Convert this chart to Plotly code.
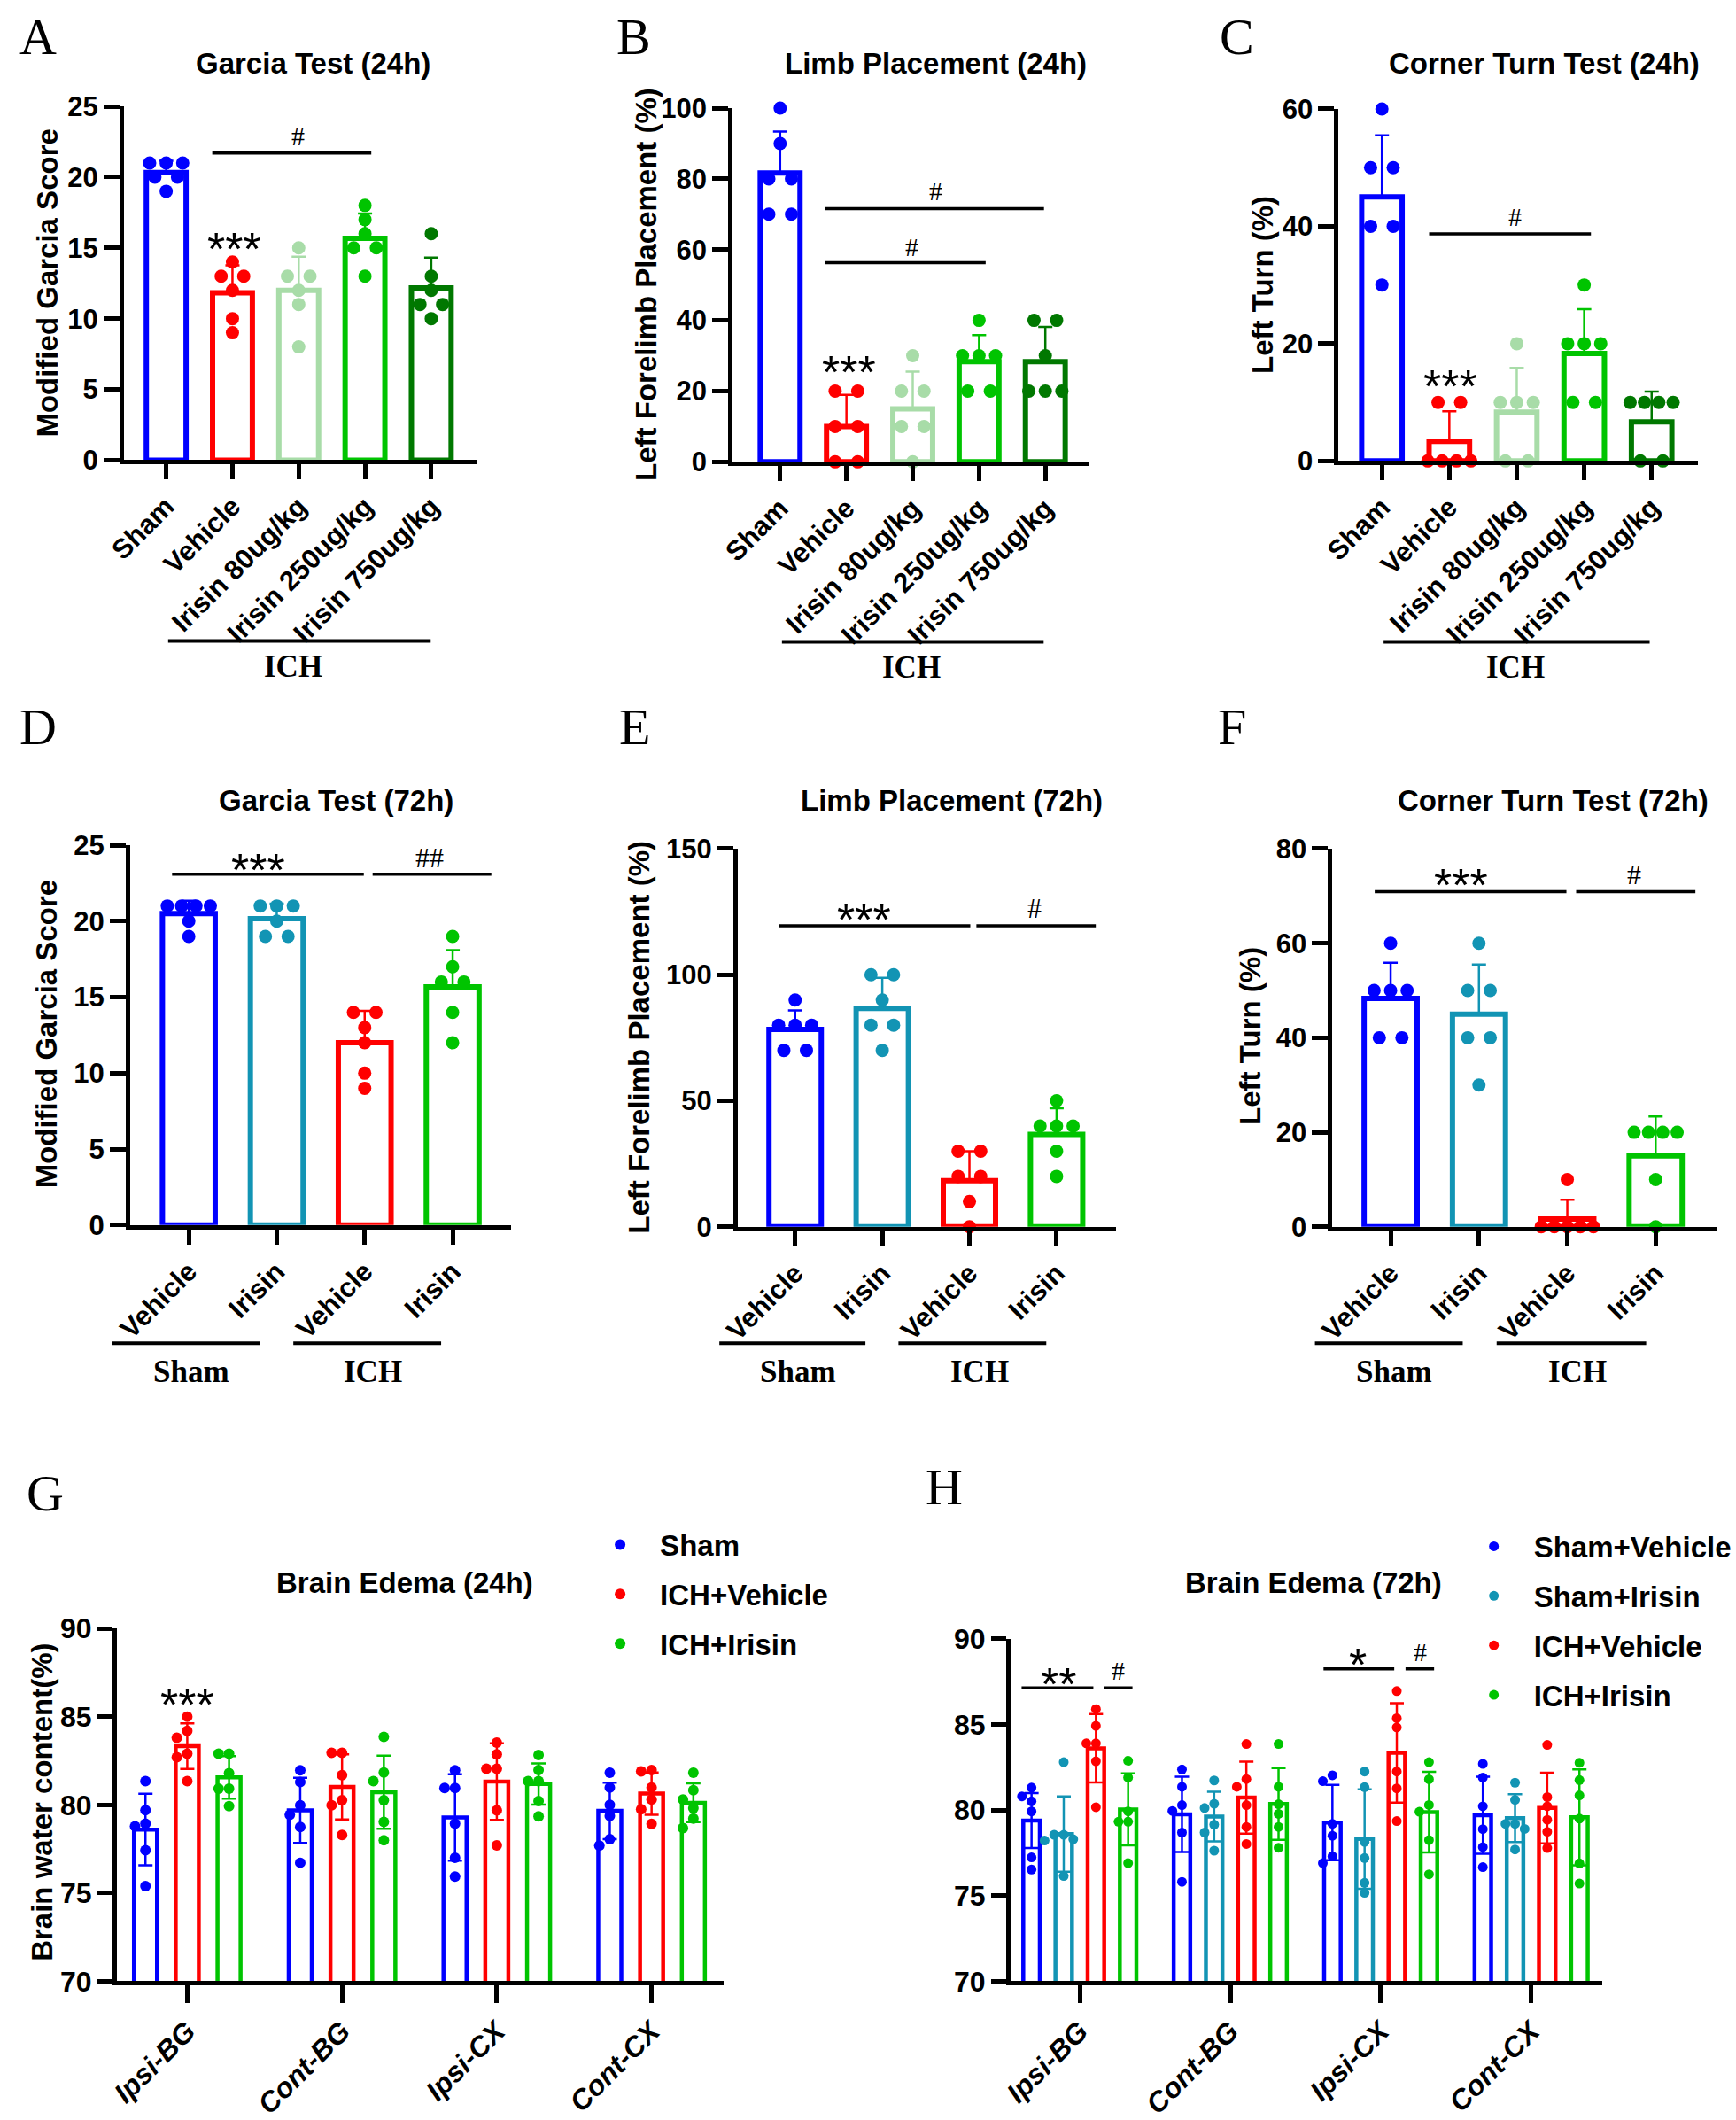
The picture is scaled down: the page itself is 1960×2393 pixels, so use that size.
import numpy as np
import plotly.graph_objects as go

W, H = 1960, 2393
SANS = "Liberation Sans, Arial, sans-serif"
SERIF = "Liberation Serif, Times New Roman, serif"

BLUE = "#0000FF"; RED = "#FF0000"; LGREEN = "#A8DCA8"; GREEN = "#00C400"
DGREEN = "#007800"; TEAL = "#1294B4"

# ---------------- data ----------------
cats_24 = ["Sham", "Vehicle", "Irisin 80ug/kg", "Irisin 250ug/kg", "Irisin 750ug/kg"]
cats_72 = ["Vehicle", "Irisin", "Vehicle", "Irisin"]
regions = ["Ipsi-BG", "Cont-BG", "Ipsi-CX", "Cont-CX"]

A_points = [[21, 21, 21, 20, 20, 19], [14, 13, 13, 12, 10, 9], [15, 13, 13, 12, 11, 8],
            [18, 17, 16, 15, 15, 13], [16, 13, 12, 11, 11, 10]]
A_mean = [20.33, 11.83, 12.0, 15.67, 12.17]
A_sd = [0.82, 1.94, 2.37, 1.75, 2.14]

B_points = [[100, 90, 80, 80, 70, 70], [20, 20, 10, 10, 0, 0], [30, 20, 20, 10, 10, 0],
            [40, 30, 30, 30, 20, 20], [40, 40, 30, 20, 20, 20]]
B_mean = [81.67, 10.0, 15.0, 28.33, 28.33]
B_sd = [11.69, 8.94, 10.49, 7.53, 9.83]

C_points = [[60, 50, 50, 40, 40, 30], [10, 10, 0, 0, 0, 0], [20, 10, 10, 10, 0, 0],
            [30, 20, 20, 20, 10, 10], [10, 10, 10, 10, 0, 0]]
C_mean = [45.0, 3.33, 8.33, 18.33, 6.67]
C_sd = [10.49, 5.16, 7.53, 7.53, 5.16]

D_points = [[21, 21, 21, 21, 20, 19], [21, 21, 21, 20, 19, 19], [14, 14, 13, 12, 10, 9],
            [19, 17, 16, 16, 14, 12]]
D_mean = [20.5, 20.17, 12.0, 15.67]
D_sd = [0.84, 0.98, 2.1, 2.42]

E_points = [[90, 80, 80, 80, 70, 70], [100, 100, 90, 80, 80, 70], [30, 30, 20, 20, 10, 0],
            [50, 40, 40, 40, 30, 20]]
E_mean = [78.33, 86.67, 18.33, 36.67]
E_sd = [7.53, 12.11, 11.69, 10.33]

F_points = [[60, 50, 50, 50, 40, 40], [60, 50, 50, 40, 40, 30], [10, 0, 0, 0, 0, 0],
            [20, 20, 20, 20, 10, 0]]
F_mean = [48.33, 45.0, 1.67, 15.0]
F_sd = [7.53, 10.49, 4.08, 8.37]

# Brain edema 24h (per region)
G_sham_pts = [[81.35, 79.70, 78.94, 78.78, 77.43, 75.40], [81.96, 81.30, 79.98, 79.44, 78.75, 76.72],
              [81.96, 80.96, 80.96, 78.94, 77.0, 75.94], [81.82, 80.98, 80.0, 79.38, 78.06, 77.69]]
G_sham_mean = [78.6, 79.69, 79.29, 79.66]
G_sham_sd = [2.03, 1.85, 2.45, 1.6]
G_veh_pts = [[85.0, 84.2, 83.8, 82.9, 82.7, 81.35], [82.95, 82.95, 81.68, 80.26, 79.98, 78.30],
             [83.53, 82.87, 82.05, 82.05, 79.69, 77.71], [81.97, 81.9, 80.98, 80.3, 79.75, 78.92]]
G_veh_mean = [83.33, 81.02, 81.32, 80.64]
G_veh_sd = [1.29, 1.84, 2.17, 1.2]
G_iri_pts = [[82.9, 82.9, 81.8, 80.92, 80.92, 79.93], [83.86, 81.83, 81.35, 80.26, 79.03, 78.0],
             [82.83, 81.97, 81.35, 81.35, 80.22, 79.35], [81.82, 80.83, 80.31, 79.82, 79.23, 78.68]]
G_iri_mean = [81.56, 80.72, 81.18, 80.12]
G_iri_sd = [1.2, 2.07, 1.17, 1.1]

# Brain edema 72h
H_sv_pts = [[81.31, 80.80, 80.51, 79.92, 77.24, 76.53], [82.37, 81.36, 80.29, 79.95, 78.69, 75.81],
            [82.03, 81.69, 79.2, 78.5, 77.3, 76.9], [82.7, 81.9, 80.22, 78.89, 77.84, 76.67]]
H_sv_mean = [79.39, 79.75, 79.27, 79.70]
H_sv_sd = [1.6, 2.2, 2.2, 2.25]
H_si_pts = [[82.8, 78.56, 78.56, 78.3, 78.22, 76.15], [81.73, 80.37, 80.12, 79.15, 78.69, 77.63],
            [82.25, 81.34, 78.14, 77.2, 75.75, 75.17], [81.6, 80.6, 79.2, 79.2, 78.9, 77.7]]
H_si_mean = [78.6, 79.62, 78.31, 79.53]
H_si_sd = [2.2, 1.45, 2.9, 1.4]
H_iv_pts = [[85.9, 84.92, 83.9, 83.9, 82.85, 80.17], [83.86, 81.81, 81.36, 80.29, 79.02, 78.02],
            [86.95, 85.37, 84.83, 82.25, 81.27, 79.36], [83.81, 80.76, 80.22, 79.43, 78.73, 77.78]]
H_iv_mean = [83.61, 80.73, 83.34, 80.12]
H_iv_sd = [2.0, 2.1, 2.9, 2.06]
H_ii_pts = [[82.88, 81.9, 79.92, 79.32, 79.32, 76.9], [83.86, 81.36, 80.34, 79.78, 79.02, 77.8],
            [82.8, 81.8, 80.3, 79.9, 78.25, 76.25], [82.76, 81.75, 80.86, 79.5, 76.89, 75.71]]
H_ii_mean = [80.04, 80.36, 79.88, 79.58]
H_ii_sd = [2.1, 2.1, 2.35, 2.8]

# ---------------- helpers ----------------
fig = go.Figure()
layout = {}
annotations = []
shapes = []

ROW_SP = {1: 0, 2: 26, 3: 19, 4: 16.5, 5: 15, 6: 15}


def row_offsets(vals):
    """horizontal pixel offsets for dots sharing identical values (symmetric rows)"""
    offs = np.zeros(len(vals))
    for u in sorted(set(vals)):
        idx = [i for i, v in enumerate(vals) if v == u]
        n = len(idx)
        for j, i in enumerate(idx):
            offs[i] = (j - (n - 1) / 2) * ROW_SP[n]
    return offs


def swarm_offsets(vals, d_px, ppu_y):
    order = np.argsort(-np.asarray(vals), kind="stable")
    placed = []
    offs = np.zeros(len(vals))
    for i in order:
        y = vals[i] * ppu_y
        for c in [0, -1, 1, -2, 2, -3, 3]:
            x = c * d_px
            if all((x - a) ** 2 + (y - b) ** 2 >= (0.95 * d_px) ** 2 for a, b in placed):
                break
        placed.append((x, y))
        offs[i] = x
    return offs


def names(k):
    return ("x" if k == 1 else f"x{k}"), ("y" if k == 1 else f"y{k}")


def set_axes(k, xpx, ypx, xr, yr, yticks, xtickvals, xticktext, italic=False, lw=4.5,
             xticklen=17, yticklen=18, xfont=31, yfont=31):
    xa, ya = names(k)
    tf = dict(family=SANS, size=xfont, color="black", weight="bold")
    if italic:
        tf["style"] = "italic"
    layout["xaxis" if k == 1 else f"xaxis{k}"] = dict(
        domain=[xpx[0] / W, xpx[1] / W], range=xr, anchor=ya, showline=True, linecolor="black",
        linewidth=lw, ticks="outside", ticklen=xticklen, tickwidth=lw, tickcolor="black",
        tickmode="array", tickvals=xtickvals, ticktext=xticktext, tickangle=-45, tickfont=tf,
        showgrid=False, zeroline=False, fixedrange=True)
    layout["yaxis" if k == 1 else f"yaxis{k}"] = dict(
        domain=[1 - ypx[1] / H, 1 - ypx[0] / H], range=yr, anchor=xa, showline=True,
        linecolor="black", linewidth=lw, ticks="outside", ticklen=yticklen, tickwidth=lw,
        tickcolor="black", tickmode="array", tickvals=yticks,
        tickfont=dict(family=SANS, size=yfont, color="black", weight="bold"),
        showgrid=False, zeroline=False, fixedrange=True)


def ann(text, xp, yp, size, family=SANS, angle=0, xanchor="center", yanchor="middle", yshift=0):
    annotations.append(dict(text=text, x=xp / W, y=1 - yp / H, xref="paper", yref="paper",
                            showarrow=False, font=dict(family=family, size=size, color="black"),
                            textangle=angle, xanchor=xanchor, yanchor=yanchor, yshift=yshift))


def dann(k, text, x, y, size, family=SANS, yshift=0):
    xa, ya = names(k)
    annotations.append(dict(text=text, x=x, y=y, xref=xa, yref=ya, showarrow=False,
                            font=dict(family=family, size=size, color="black"),
                            xanchor="center", yanchor="middle", yshift=yshift))


def dline(k, x0, x1, y, w=3.5):
    xa, ya = names(k)
    shapes.append(dict(type="line", xref=xa, yref=ya, x0=x0, x1=x1, y0=y, y1=y,
                       line=dict(color="black", width=w)))


def pline(x0, x1, y, w=4):
    shapes.append(dict(type="line", xref="paper", yref="paper", x0=x0 / W, x1=x1 / W,
                       y0=1 - y / H, y1=1 - y / H, line=dict(color="black", width=w)))


def bar_panel(k, xpx, ypx, xr, yr, yticks, cats, pts, means, sds, colors, bw=0.6):
    xa, ya = names(k)
    ppx = (xpx[1] - xpx[0]) / (xr[1] - xr[0])
    for i, (p, m, s, c) in enumerate(zip(pts, means, sds, colors)):
        fig.add_trace(go.Bar(x=[i], y=[m], width=[bw], xaxis=xa, yaxis=ya,
                             marker=dict(color="white", line=dict(color=c, width=6)),
                             error_y=dict(type="data", symmetric=False, array=[s], arrayminus=[0],
                                          color=c, thickness=2.5, width=8),
                             showlegend=False, hoverinfo="skip"))
        fig.add_trace(go.Scatter(x=i + row_offsets(p) / ppx, y=p, mode="markers", xaxis=xa, yaxis=ya,
                                 marker=dict(color=c, size=15, line=dict(width=0)),
                                 cliponaxis=False, showlegend=False, hoverinfo="skip"))
    set_axes(k, xpx, ypx, xr, yr, yticks, list(range(len(cats))), cats)


def group_panel(k, xpx, ypx, xr, yr, series, slot, bw, dot, legend_name):
    xa, ya = names(k)
    ppx = (xpx[1] - xpx[0]) / (xr[1] - xr[0])
    ppy = (ypx[1] - ypx[0]) / (yr[1] - yr[0])
    m = len(series)
    for j, (name, c, pts, means, sds) in enumerate(series):
        off = (j - (m - 1) / 2) * slot
        xs = [g + off for g in range(len(regions))]
        fig.add_trace(go.Bar(x=xs, y=means, width=bw, xaxis=xa, yaxis=ya, base=0,
                             marker=dict(color="white", line=dict(color=c, width=4.5)),
                             error_y=dict(type="data", array=sds, color=c, thickness=2.5, width=8),
                             showlegend=False, hoverinfo="skip"))
        dx, dy = [], []
        for g, p in enumerate(pts):
            o = swarm_offsets(p, dot, ppy) / ppx
            dx += list(xs[g] + o)
            dy += list(p)
        fig.add_trace(go.Scatter(x=dx, y=dy, mode="markers", name=name, xaxis=xa, yaxis=ya,
                                 marker=dict(color=c, size=dot, line=dict(width=0)),
                                 cliponaxis=False, showlegend=True, legend=legend_name,
                                 legendgroup=name, hoverinfo="skip"))
    set_axes(k, xpx, ypx, xr, yr, [70, 75, 80, 85, 90], list(range(len(regions))), regions,
             italic=True, lw=5, xticklen=20, yticklen=17, xfont=32, yfont=32)


# ---------------- panels ----------------
c24 = [BLUE, RED, LGREEN, GREEN, DGREEN]
c72 = [BLUE, TEAL, RED, GREEN]

bar_panel(1, (122, 529), (104, 511), [-0.64, 4.70], [0, 25], [0, 5, 10, 15, 20, 25], cats_24,
          A_points, A_mean, A_sd, c24)
bar_panel(2, (822, 1233), (106, 513), [-0.72, 4.67], [0, 100], [0, 20, 40, 60, 80, 100], cats_24,
          B_points, B_mean, B_sd, c24)
bar_panel(3, (1519, 1932), (107, 512), [-0.645, 4.68], [0, 60], [0, 20, 40, 60], cats_24,
          C_points, C_mean, C_sd, c24)
bar_panel(4, (129, 567), (954, 1391), [-0.67, 3.66], [0, 25], [0, 5, 10, 15, 20, 25], cats_72,
          D_points, D_mean, D_sd, c72)
bar_panel(5, (828, 1263), (958, 1393), [-0.66, 3.68], [0, 150], [0, 50, 100, 150], cats_72,
          E_points, E_mean, E_sd, c72)
bar_panel(6, (1512, 1955), (958, 1393), [-0.66, 3.70], [0, 80], [0, 20, 40, 60, 80], cats_72,
          F_points, F_mean, F_sd, c72)

group_panel(7, (114, 812), (1855, 2261), [-0.455, 3.466], [70, 90],
            [("Sham", BLUE, G_sham_pts, G_sham_mean, G_sham_sd),
             ("ICH+Vehicle", RED, G_veh_pts, G_veh_mean, G_veh_sd),
             ("ICH+Irisin", GREEN, G_iri_pts, G_iri_mean, G_iri_sd)],
            slot=0.27, bw=0.149, dot=12, legend_name="legend")
group_panel(8, (1142, 1822), (1867, 2261), [-0.46, 3.47], [70, 90],
            [("Sham+Vehicle", BLUE, H_sv_pts, H_sv_mean, H_sv_sd),
             ("Sham+Irisin", TEAL, H_si_pts, H_si_mean, H_si_sd),
             ("ICH+Vehicle", RED, H_iv_pts, H_iv_mean, H_iv_sd),
             ("ICH+Irisin", GREEN, H_ii_pts, H_ii_mean, H_ii_sd)],
            slot=0.214, bw=0.11, dot=11, legend_name="legend2")

# ---------------- text ----------------
for t, x, y in [("Garcia Test (24h)", 340, 55), ("Limb Placement (24h)", 1056, 55),
                ("Corner Turn Test (24h)", 1756, 55), ("Garcia Test (72h)", 366, 902),
                ("Limb Placement (72h)", 1074, 902), ("Corner Turn Test (72h)", 1766, 902),
                ("Brain Edema (24h)", 445, 1802), ("Brain Edema (72h)", 1490, 1802)]:
    ann(f"<b>{t}</b>", x, y, 33)

for t, x, y in [("A", 0, 24), ("B", 687, 24), ("C", 1380, 24), ("D", 0, 818), ("E", 690, 818),
                ("F", 1378, 818), ("G", 8, 1699), ("H", 1042, 1692)]:
    ann(t, x, y, 58, family=SERIF, xanchor="left")

for t, x, y in [("Modified Garcia Score", 34, 307), ("Left Forelimb Placement (%)", 722, 309),
                ("Left Turn (%)", 1431, 309), ("Modified Garcia Score", 34, 1171),
                ("Left Forelimb Placement (%)", 715, 1175), ("Left Turn (%)", 1418, 1173),
                ("Brain water content(%)", 28, 2055)]:
    ann(f"<b>{t}</b>", x, y, 33, angle=-90)

# group underlines and labels
for x0, x1, y, t, tx, gap in [(173, 475, 719, "ICH", 317, 30), (879, 1180, 720, "ICH", 1028, 30),
                              (1571, 1877, 720, "ICH", 1723, 30),
                              (109, 279, 1527, "Sham", 200, 33), (317, 487, 1527, "ICH", 409, 33),
                              (807, 975, 1527, "Sham", 897, 33), (1013, 1183, 1527, "ICH", 1106, 33),
                              (1492, 1662, 1527, "Sham", 1583, 33), (1701, 1873, 1527, "ICH", 1794, 33)]:
    pline(x0, x1, y)
    ann(f"<b>{t}</b>", tx, y + gap, 35, family=SERIF)

# significance marks
AST = 52
dline(1, 0.695, 3.095, 21.7); dann(1, "#", 1.99, 22.9, 30, SERIF); dann(1, "***", 1.03, 15.66, AST, yshift=-12)
dline(2, 0.68, 3.98, 71.6); dann(2, "#", 2.35, 76.6, 30, SERIF)
dline(2, 0.68, 3.10, 56.3); dann(2, "#", 1.98, 60.8, 30, SERIF); dann(2, "***", 1.04, 28.5, AST, yshift=-12)
dline(3, 0.70, 3.10, 38.7); dann(3, "#", 1.97, 41.6, 30, SERIF); dann(3, "***", 1.02, 14.6, AST, yshift=-12)
dline(4, -0.19, 1.99, 23.1); dann(4, "***", 0.79, 24.1, AST, yshift=-12)
dline(4, 2.09, 3.44, 23.1); dann(4, "##", 2.74, 24.2, 32, SERIF)
dline(5, -0.19, 2.01, 119.4); dann(5, "***", 0.79, 126.1, AST, yshift=-12)
dline(5, 2.08, 3.45, 119.4); dann(5, "#", 2.75, 126.5, 32, SERIF)
dline(6, -0.18, 1.99, 70.9); dann(6, "***", 0.80, 74.5, AST, yshift=-12)
dline(6, 2.10, 3.45, 70.9); dann(6, "#", 2.76, 74.5, 32, SERIF)
dann(7, "***", 0.0, 86.28, AST, yshift=-12)
dline(8, -0.387, 0.09, 87.14); dann(8, "**", -0.14, 88.0, AST, yshift=-12)
dline(8, 0.16, 0.35, 87.14); dann(8, "#", 0.255, 88.16, 30, SERIF)
dline(8, 1.62, 2.09, 88.25); dann(8, "*", 1.85, 89.1, AST, yshift=-12)
dline(8, 2.165, 2.355, 88.25); dann(8, "#", 2.26, 89.27, 30, SERIF)

legend_common = dict(font=dict(family=SANS, size=33, color="black", weight="bold"),
                     bgcolor="rgba(0,0,0,0)", borderwidth=0, itemwidth=80, tracegroupgap=10,
                     traceorder="grouped", xanchor="left", yanchor="top", itemclick=False,
                     itemdoubleclick=False)
layout["legend"] = dict(x=647 / W, y=1 - (1755 - 25) / H, **legend_common)
layout["legend2"] = dict(x=1652 / W, y=1 - (1757 - 25) / H, **legend_common)

fig.update_layout(**layout)
fig.update_layout(width=W, height=H, autosize=False, margin=dict(l=0, r=0, t=0, b=0),
                  paper_bgcolor="white", plot_bgcolor="rgba(0,0,0,0)", barmode="overlay",
                  annotations=annotations, shapes=shapes, font=dict(family=SANS, color="black"))

fig.write_html("out.html", config={"displayModeBar": False, "responsive": False},
               post_script="document.body.style.margin='0px';")
